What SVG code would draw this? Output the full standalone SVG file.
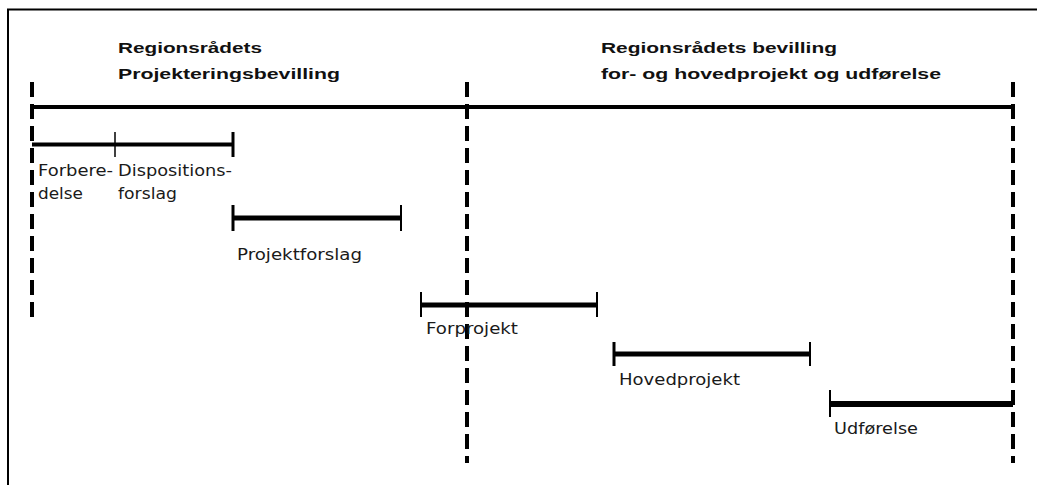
<svg xmlns="http://www.w3.org/2000/svg" width="1037" height="485" viewBox="0 0 1037 485">
<style>
.lbl{font-family:"DejaVu Sans",Verdana,sans-serif;font-size:15px;fill:#1a1a1a}
.hd{font-family:"Liberation Sans",Arial,sans-serif;font-size:15px;font-weight:bold;fill:#111}
.bar{stroke:#000;fill:none}
.dash{stroke:#000;stroke-width:4;stroke-dasharray:15 7;fill:none}
</style>
<rect width="1037" height="485" fill="#fff"/>
<g id="frame" fill="none" stroke="#000" stroke-width="2">
<path d="M8 485 V9.5 H1037"/>
</g>
<g id="headings">
<text class="hd" x="118" y="53" textLength="144" lengthAdjust="spacingAndGlyphs">Regionsrådets</text>
<text class="hd" x="118" y="79" textLength="222" lengthAdjust="spacingAndGlyphs">Projekteringsbevilling</text>
<text class="hd" x="601" y="53" textLength="236" lengthAdjust="spacingAndGlyphs">Regionsrådets bevilling</text>
<text class="hd" x="601" y="79" textLength="340" lengthAdjust="spacingAndGlyphs">for- og hovedprojekt og udførelse</text>
</g>
<g id="connectors">
<line class="dash" x1="32" y1="82" x2="32" y2="318"/>
<line class="dash" x1="467" y1="82" x2="467" y2="463"/>
<line class="dash" x1="1013" y1="82" x2="1013" y2="463"/>
<line class="bar" x1="32" y1="107" x2="1013" y2="107" stroke-width="4"/>
</g>
<g id="forberedelse-dispositionsforslag">
<line class="bar" x1="32" y1="144.5" x2="233" y2="144.5" stroke-width="4"/>
<line class="bar" x1="115" y1="132" x2="115" y2="157" stroke-width="1.5"/>
<line class="bar" x1="233" y1="132" x2="233" y2="157" stroke-width="3"/>
<text class="lbl" x="38" y="176" textLength="75" lengthAdjust="spacingAndGlyphs">Forbere-</text>
<text class="lbl" x="38" y="199" textLength="45" lengthAdjust="spacingAndGlyphs">delse</text>
<text class="lbl" x="118" y="176" textLength="114" lengthAdjust="spacingAndGlyphs">Dispositions-</text>
<text class="lbl" x="118" y="199" textLength="59" lengthAdjust="spacingAndGlyphs">forslag</text>
</g>
<g id="projektforslag">
<line class="bar" x1="233" y1="218" x2="401" y2="218" stroke-width="5"/>
<line class="bar" x1="233" y1="205" x2="233" y2="231" stroke-width="3"/>
<line class="bar" x1="401" y1="205" x2="401" y2="231" stroke-width="2"/>
<text class="lbl" x="237" y="260" textLength="125" lengthAdjust="spacingAndGlyphs">Projektforslag</text>
</g>
<g id="forprojekt">
<line class="bar" x1="421" y1="305" x2="597" y2="305" stroke-width="5"/>
<line class="bar" x1="421" y1="292" x2="421" y2="317" stroke-width="2"/>
<line class="bar" x1="597" y1="292" x2="597" y2="317" stroke-width="2"/>
<text class="lbl" x="426" y="334" textLength="92" lengthAdjust="spacingAndGlyphs">Forprojekt</text>
</g>
<g id="hovedprojekt">
<line class="bar" x1="614" y1="354" x2="810" y2="354" stroke-width="5"/>
<line class="bar" x1="614" y1="342" x2="614" y2="366" stroke-width="3"/>
<line class="bar" x1="810" y1="342" x2="810" y2="366" stroke-width="2"/>
<text class="lbl" x="619" y="385" textLength="121" lengthAdjust="spacingAndGlyphs">Hovedprojekt</text>
</g>
<g id="udforelse">
<line class="bar" x1="830" y1="404" x2="1013" y2="404" stroke-width="6"/>
<line class="bar" x1="830" y1="390" x2="830" y2="417" stroke-width="2"/>
<text class="lbl" x="834" y="434" textLength="84" lengthAdjust="spacingAndGlyphs">Udførelse</text>
</g>
</svg>
